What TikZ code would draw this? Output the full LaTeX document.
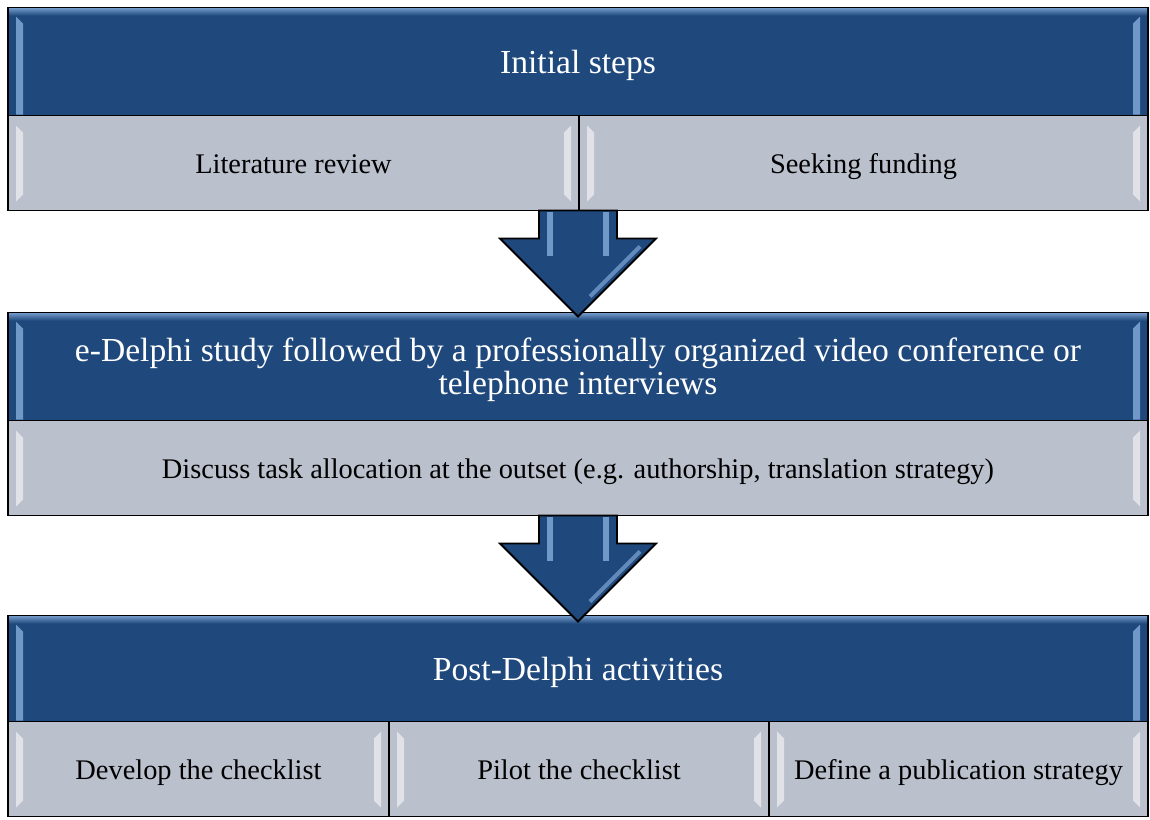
\documentclass[tikz,border=0pt]{standalone}
\usepackage{fontspec}
\setmainfont{Liberation Serif}
\usetikzlibrary{positioning}

\definecolor{hdrblue}{RGB}{31,73,125}
\definecolor{cellgrey}{RGB}{187,192,205}
\definecolor{bevelblue}{RGB}{141,180,226}

\begin{document}
\begin{tikzpicture}[x=0.5pt,y=-0.5pt,outer sep=0pt,
    header/.style={draw=black,line width=0.9pt,fill=hdrblue,text=white,
        minimum width=570pt,minimum height=54pt,inner sep=0pt,align=center,
        font=\fontsize{16.8}{16.5}\selectfont},
    oneline/.style={text height=1.2em,text depth=0pt},
    cell/.style={draw=black,line width=0.9pt,fill=cellgrey,text=black,
        text height=1.1em,text depth=0.1em,
        minimum height=47.5pt,inner sep=0pt,font=\fontsize{14.2}{16}\selectfont},
    blockarrow/.style={draw=black,line width=0.9pt,fill=hdrblue,line join=miter},
    hdrbevel/.style={fill=bevelblue,opacity=0.75},
    cellbevel/.style={fill=white,opacity=0.55}]

    \useasboundingbox (0,0) rectangle (1150,819);

    % initial steps
    \node[header,oneline] (h1) at (578,61.5) {Initial steps};
    \node[cell,minimum width=285.5pt,anchor=north west] (s1a) at (h1.south west) {Literature review};
    \node[cell,minimum width=284.5pt] (s1b) [right=0pt of s1a] {Seeking funding};
    \coordinate (g1) at (h1.center |- s1a.south);

    % e-Delphi
    \node[header,text depth=-2.5pt] (h2) [below=51pt of g1]
        {e-Delphi study followed by a professionally organized video conference or\\telephone interviews};
    \node[cell,minimum width=570pt] (s2) [below=0pt of h2]
        {Discuss task allocation at the outset (e.g. authorship, translation strategy)};
    \coordinate (g2) at (s2.south);

    % post-Delphi
    \node[header,oneline,minimum height=53pt] (h3) [below=50pt of g2] {Post-Delphi activities};
    \node[cell,minimum width=190.5pt,anchor=north west] (s3a) at (h3.south west) {Develop the checklist};
    \node[cell,minimum width=190pt] (s3b) [right=0pt of s3a] {Pilot the checklist};
    \node[cell,minimum width=189.5pt] (s3c) [right=0pt of s3b] {Define a publication strategy};

    % bevels
    \foreach \n in {h1,h2,h3} {
        \shade[top color=bevelblue!70!hdrblue,bottom color=hdrblue]
            ([shift={(1,1)}]\n.north west) rectangle ([shift={(-1,8)}]\n.north east);
        \fill[hdrbevel] ([shift={(8,9)}]\n.north west) -- ([shift={(15,16)}]\n.north west)
            -- ([shift={(15,-1)}]\n.south west) -- ([shift={(8,-1)}]\n.south west) -- cycle;
        \fill[hdrbevel] ([shift={(-8,9)}]\n.north east) -- ([shift={(-15,16)}]\n.north east)
            -- ([shift={(-15,-1)}]\n.south east) -- ([shift={(-8,-1)}]\n.south east) -- cycle;
    }
    \foreach \n in {s1a,s1b,s2,s3a,s3b,s3c} {
        \fill[cellbevel] ([shift={(8,10)}]\n.north west) -- ([shift={(15,17)}]\n.north west)
            -- ([shift={(15,-16)}]\n.south west) -- ([shift={(8,-9)}]\n.south west) -- cycle;
        \fill[cellbevel] ([shift={(-8,10)}]\n.north east) -- ([shift={(-15,17)}]\n.north east)
            -- ([shift={(-15,-16)}]\n.south east) -- ([shift={(-8,-9)}]\n.south east) -- cycle;
    }

    % arrows between the stages
    \foreach \g in {g1,g2} {
        \draw[blockarrow] (\g) ++(-39,0) -- ++(0,28) -- ++(-39,0) -- ++(78,78)
            -- ++(78,-78) -- ++(-39,0) -- ++(0,-28) -- cycle;
        \fill[hdrbevel] (\g) ++(-31,1) rectangle ++(6,44);
        \fill[hdrbevel] (\g) ++(25,1) rectangle ++(6,44);
        \draw[bevelblue,line width=2pt,opacity=0.6] (\g) ++(62,36) -- ++(-50,50);
    }
\end{tikzpicture}
\end{document}
